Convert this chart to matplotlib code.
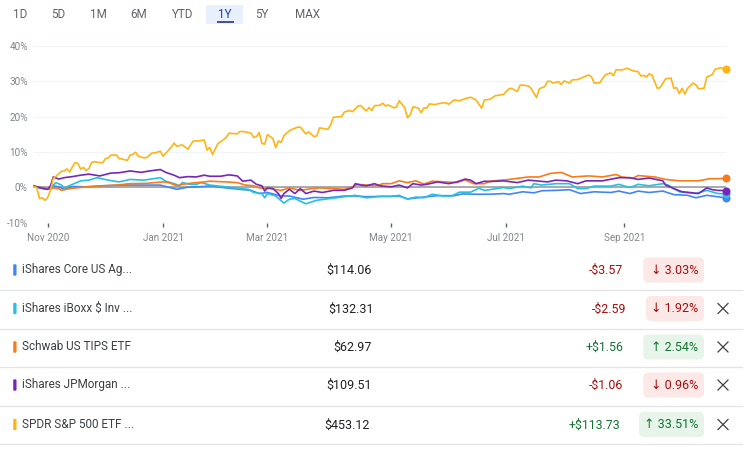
import matplotlib
matplotlib.use("Agg")
import matplotlib.pyplot as plt
from matplotlib.patches import FancyBboxPatch, Rectangle

plt.rcParams['font.family'] = ['Roboto', 'DejaVu Sans']

W, H = 750, 451

# x values are trading sessions since the start of the 1Y window
tick_sessions = [5, 47, 85, 130, 172, 215]
tick_labels = ["Nov 2020", "Jan 2021", "Mar 2021", "May 2021", "Jul 2021", "Sep 2021"]
y_ticks = [-10, 0, 10, 20, 30, 40]
ranges = ["1D", "5D", "1M", "6M", "YTD", "1Y", "5Y", "MAX"]

spy_x = [0, 1, 2, 3, 4, 5, 6, 7, 8, 10, 11, 12, 13, 14, 15, 16, 17, 18, 19, 20, 21, 22, 24, 25, 26, 27, 28, 30, 31,
         32, 34, 35, 36, 37, 38, 40, 41, 43, 44, 46, 47, 48, 50, 51, 52, 54, 56, 58, 60, 62, 63, 64, 65, 67, 68, 70,
         71, 74, 75, 77, 79, 80, 81, 82, 83, 84, 85, 87, 88, 89, 90, 91, 93, 94, 96, 97, 99, 100, 102, 103, 104, 107,
         108, 109, 112, 113, 115, 116, 118, 119, 121, 122, 123, 124, 126, 127, 128, 129, 131, 132, 133, 135, 136, 137,
         138, 140, 141, 142, 143, 144, 146, 148, 150, 151, 153, 155, 157, 159, 161, 163, 164, 166, 168, 171, 173, 174,
         176, 177, 178, 180, 181, 183, 184, 186, 187, 188, 189, 191, 192, 193, 195, 196, 198, 202, 203, 204, 206, 208,
         210, 211, 212, 214, 216, 218, 220, 221, 222, 223, 224, 225, 227, 228, 230, 232, 233, 234, 235, 236, 237, 238,
         240, 241, 242, 244, 245, 247, 248, 250, 252]
spy_pct = [0.2, -0.1, -3.2, -3.0, -3.7, -2.9, -0.9, 2.5, 3.1, 4.5, 4.6, 5.2, 4.3, 5.8, 7.0, 6.7, 5.1, 5.6, 4.7, 5.3, 7.0,
           7.2, 7.0, 6.9, 8.1, 8.3, 9.1, 9.1, 8.1, 8.0, 7.6, 9.1, 9.3, 9.9, 8.8, 8.3, 8.4, 9.7, 9.7, 10.2, 8.8, 9.6,
           11.4, 12.5, 11.6, 12.0, 10.8, 13.1, 13.1, 13.4, 10.5, 11.3, 9.3, 12.4, 12.9, 14.1, 15.3, 15.1, 15.8, 15.7,
           15.3, 14.1, 14.3, 15.5, 12.4, 12.2, 14.9, 13.8, 11.2, 13.1, 12.7, 14.6, 16.0, 16.4, 17.0, 17.0, 15.1, 15.7,
           14.3, 14.6, 16.8, 16.4, 17.6, 19.8, 20.0, 21.3, 21.7, 21.4, 23.0, 23.1, 21.6, 22.6, 21.7, 23.1, 23.2, 23.8,
           23.0, 23.3, 22.5, 22.7, 24.5, 22.5, 19.7, 20.5, 22.8, 22.4, 21.1, 22.5, 22.4, 23.6, 23.4, 23.8, 23.9, 23.5,
           24.7, 24.5, 25.1, 25.5, 24.7, 22.4, 24.7, 24.9, 25.9, 26.3, 27.9, 28.0, 27.1, 28.9, 28.9, 28.7, 28.0, 25.4,
           27.9, 28.5, 30.0, 30.0, 29.5, 29.9, 29.1, 30.1, 29.5, 30.4, 30.5, 31.8, 31.3, 29.5, 29.6, 31.8, 32.4, 31.6,
           33.3, 33.2, 33.7, 33.0, 32.7, 31.5, 31.7, 31.2, 32.1, 31.8, 28.0, 28.2, 30.7, 30.9, 28.0, 28.2, 26.5, 28.0,
           26.4, 28.0, 29.5, 29.0, 27.9, 28.0, 31.2, 31.9, 33.4, 33.8, 33.51]

jpm_x = [0, 2, 5, 6, 7, 9, 11, 14, 17, 20, 24, 28, 31, 35, 39, 42, 46, 48, 51, 53, 56, 59, 62, 64, 68, 71, 74, 76, 79,
         81, 83, 84, 85, 87, 89, 90, 91, 93, 95, 97, 99, 102, 105, 109, 113, 116, 117, 119, 121, 124, 126, 130, 133,
         136, 138, 141, 143, 147, 151, 154, 157, 159, 161, 164, 166, 171, 176, 180, 187, 190, 194, 198, 201, 207, 213,
         217, 220, 224, 229, 230, 233, 236, 240, 242, 245, 247, 249, 252]
jpm_pct = [0.4, -0.1, -0.6, 0.4, 2.9, 2.3, 2.7, 3.0, 3.4, 3.7, 3.2, 4.0, 4.1, 4.6, 4.2, 4.6, 5.0, 4.2, 3.4, 2.7, 3.0,
           2.9, 3.4, 3.1, 3.1, 3.5, 3.2, 1.7, 2.0, 0.8, 0.4, -1.1, -0.2, -0.4, -1.8, -3.2, -1.8, -0.6, -1.8, -0.4,
           -1.8, -1.1, -1.5, -0.9, -0.9, -0.2, 1.0, 0.6, 0.4, 1.0, 0.4, 0.1, 0.6, -0.2, 1.0, 0.6, 0.8, 1.5, 1.0, 1.5,
           2.3, 2.0, 1.0, 1.7, 1.6, 1.8, 1.3, 2.0, 1.5, 2.0, 1.8, 1.0, 1.8, 1.8, 2.7, 2.7, 2.2, 2.6, 1.8, 0.6, -0.4,
           -1.3, -1.6, -1.8, -0.2, -0.7, -0.9, -0.96]

tips_x = [0, 6, 7, 9, 10, 13, 19, 25, 30, 35, 41, 47, 49, 52, 54, 58, 62, 64, 70, 74, 77, 80, 82, 86, 90, 93, 97, 101,
          104, 109, 113, 116, 118, 121, 125, 127, 130, 133, 136, 139, 142, 145, 150, 154, 157, 160, 164, 166, 173, 180,
          184, 188, 192, 196, 202, 207, 212, 214, 218, 220, 226, 230, 235, 242, 246, 249, 252]
tips_pct = [0.2, -0.6, -0.2, -0.4, -0.9, -0.4, 0.1, 0.4, 0.6, 1.0, 1.1, 1.5, 1.3, 0.4, 0.8, 1.2, 1.5, 1.7, 1.5, 1.3,
            0.6, 0.4, -0.2, -0.4, -0.9, -0.2, -0.9, -0.4, -0.2, -0.4, -0.6, 0.1, 0.8, 0.6, 0.4, 1.0, 1.0, 1.8, 1.3,
            1.8, 0.9, 1.7, 1.5, 1.3, 2.1, 1.0, 1.0, 1.7, 2.2, 2.9, 2.9, 3.9, 4.2, 2.9, 3.2, 2.9, 3.6, 2.9, 2.5, 3.3,
            2.9, 2.2, 1.8, 1.8, 2.4, 2.4, 2.54]

iboxx_x = [0, 3, 6, 7, 8, 10, 11, 14, 17, 20, 23, 27, 31, 35, 40, 46, 48, 51, 53, 54, 57, 59, 61, 64, 70, 75, 78, 80,
           83, 84, 85, 88, 91, 93, 95, 99, 103, 108, 113, 117, 121, 126, 130, 133, 136, 139, 142, 145, 149, 152, 155,
           159, 162, 164, 166, 171, 173, 178, 181, 182, 185, 190, 195, 198, 201, 204, 210, 213, 217, 220, 224, 229,
           231, 235, 241, 245, 249, 252]
iboxx_pct = [0.2, -0.2, -0.6, 0.6, 1.3, 0.6, -0.2, 0.8, 1.8, 2.0, 2.7, 2.0, 1.5, 2.2, 2.0, 2.7, 1.7, 1.0, 0.4, 1.3, 0.8,
             0.8, 1.3, 0.6, 0.1, -0.4, -0.6, -1.5, -1.8, -3.0, -1.8, -2.5, -4.5, -3.4, -3.2, -4.7, -3.7, -3.2, -2.7,
             -2.3, -3.0, -2.6, -2.6, -2.3, -3.4, -2.8, -3.0, -2.0, -2.5, -2.5, -1.4, -1.4, -0.3, -0.9, -0.7, -0.1,
             -0.4, 0.3, -0.2, 1.0, 0.6, 1.0, 1.0, -0.4, -0.4, 0.3, 0.3, 0.8, -0.1, 0.8, 0.4, 1.0, 0.6, -1.3, -1.8,
             -0.9, -1.8, -1.92]

agg_x = [0, 3, 5, 7, 9, 11, 14, 19, 25, 33, 40, 46, 49, 52, 56, 62, 64, 70, 75, 79, 82, 85, 90, 93, 98, 102, 107, 113,
         117, 121, 126, 130, 133, 136, 142, 147, 153, 156, 161, 166, 171, 173, 178, 182, 185, 190, 195, 199, 204, 210,
         213, 217, 220, 224, 229, 233, 238, 241, 245, 249, 252]
agg_pct = [0.2, -0.4, -0.6, 0.4, 0.1, -0.6, 0.2, 0.1, 0.4, 0.6, 0.6, 0.6, 0.0, -0.6, 0.0, 0.2, 0.4, -0.2, -0.6, -0.9,
           -1.8, -1.5, -2.5, -2.5, -3.4, -2.9, -3.0, -2.5, -2.5, -2.7, -2.6, -2.6, -2.5, -3.3, -2.8, -2.4, -2.4, -1.9,
           -2.0, -2.0, -1.8, -2.0, -1.3, -1.6, -1.0, -0.9, -0.7, -1.8, -1.3, -1.5, -1.1, -1.8, -1.1, -1.5, -1.1, -2.1,
           -2.3, -3.0, -2.3, -2.7, -3.03]

names = ["iShares Core US Ag...", "iShares iBoxx $ Inv ...", "Schwab US TIPS ETF", "iShares JPMorgan ...", "SPDR S&P 500 ETF ..."]
prices = ["$114.06", "$132.31", "$62.97", "$109.51", "$453.12"]
changes = ["-$3.57", "-$2.59", "+$1.56", "-$1.06", "+$113.73"]
percents = ["↓ 3.03%", "↓ 1.92%", "↑ 2.54%", "↓ 0.96%", "↑ 33.51%"]
colors = ["#4285f4", "#24c1e0", "#fa7b17", "#7627bb", "#fdb515"]
series = [(agg_x, agg_pct), (iboxx_x, iboxx_pct), (tips_x, tips_pct), (jpm_x, jpm_pct), (spy_x, spy_pct)]

fig = plt.figure(figsize=(W / 100, H / 100), dpi=100)
ax = fig.add_axes([34 / W, 1 - 222.5 / H, 692 / W, 176.5 / H])

ax.set_xlim(0, 252)
ax.set_ylim(-10, 40)
for s in ax.spines.values():
    s.set_visible(False)
ax.set_yticks(y_ticks)
ax.set_yticklabels([f"{v}%" for v in y_ticks], fontsize=7.2, color="#80868b")
ax.tick_params(axis="y", length=0, pad=4.5)
ax.set_xticks(tick_sessions)
ax.set_xticklabels(tick_labels, fontsize=7.1, color="#80868b")
ax.tick_params(axis="x", length=2.6, width=1, color="#5f6368", pad=5)
ax.grid(axis="y", color="#f1f3f4", lw=0.8)
ax.set_axisbelow(True)
ax.axhline(0, color="#aaaaaa", lw=1.4, zorder=1)

for (xs, ys), c in zip(series, colors):
    ax.plot(xs, ys, color=c, lw=1.2, solid_joinstyle="round", clip_on=False, zorder=2)
    ax.plot(xs[-1], ys[-1], "o", color=c, ms=5.8, mew=0, clip_on=False, zorder=3)

# overlay in pixel coordinates for the range tabs and the table
ov = fig.add_axes([0, 0, 1, 1], facecolor="none")
ov.set_xlim(0, W)
ov.set_ylim(H, 0)
ov.axis("off")

ov.add_patch(Rectangle((206, 5), 37, 19, color="#e8f0fe", lw=0))
ov.plot([216.5, 233.5], [22, 22], color="#1a237e", lw=1.1, solid_capstyle="butt")
tab_x = [20, 58.5, 98.5, 139, 183, 225, 262, 307]
for t, x in zip(ranges, tab_x):
    ov.text(x, 14.5, t, ha="center", va="center", fontsize=8.4, color="#1a3a9c" if t == "1Y" else "#5f6368")

row_y = [270, 308.5, 347, 385, 424.5]
sep_y = [289.5, 329, 367, 405.5, 444]
price_right = [371.7, 373.7, 371.7, 371.7, 370]
change_right = [623.3, 626.7, 624, 623.3, 620]
chip_left = [643.3, 646, 643.3, 643.3, 639]

for i, y in enumerate(row_y):
    ov.plot([0, 742], [sep_y[i], sep_y[i]], color="#e3e3e3", lw=0.9)
    ov.add_patch(FancyBboxPatch((13.4, y - 5.5), 2.8, 11, boxstyle="round,pad=0,rounding_size=1", color=colors[i], lw=0.3))
    ov.text(22.5, y - 0.5, names[i], ha="left", va="center", fontsize=8.5, color="#3c4043")
    ov.text(price_right[i], y + 0.5, prices[i], ha="right", va="center", fontsize=9.0, color="#202124")

    up = percents[i][0] == "↑"
    fg = "#137333" if up else "#a50e0e"
    ov.text(change_right[i], y + 0.5, changes[i], ha="right", va="center", fontsize=8.9, color=fg)
    ov.add_patch(FancyBboxPatch((chip_left[i] + 4, y - 8.5), 704 - chip_left[i] - 8, 17,
                                boxstyle="round,pad=4,rounding_size=5", color="#e6f4ea" if up else "#fce8e6", lw=0))
    ov.text(698, y + 0.5, percents[i], ha="right", va="center", fontsize=9.0, color=fg)

    if i > 0:
        ov.plot([718, 728], [y - 5, y + 5], color="#3c4043", lw=0.9)
        ov.plot([718, 728], [y + 5, y - 5], color="#3c4043", lw=0.9)

fig.savefig("out.png", dpi=100)
